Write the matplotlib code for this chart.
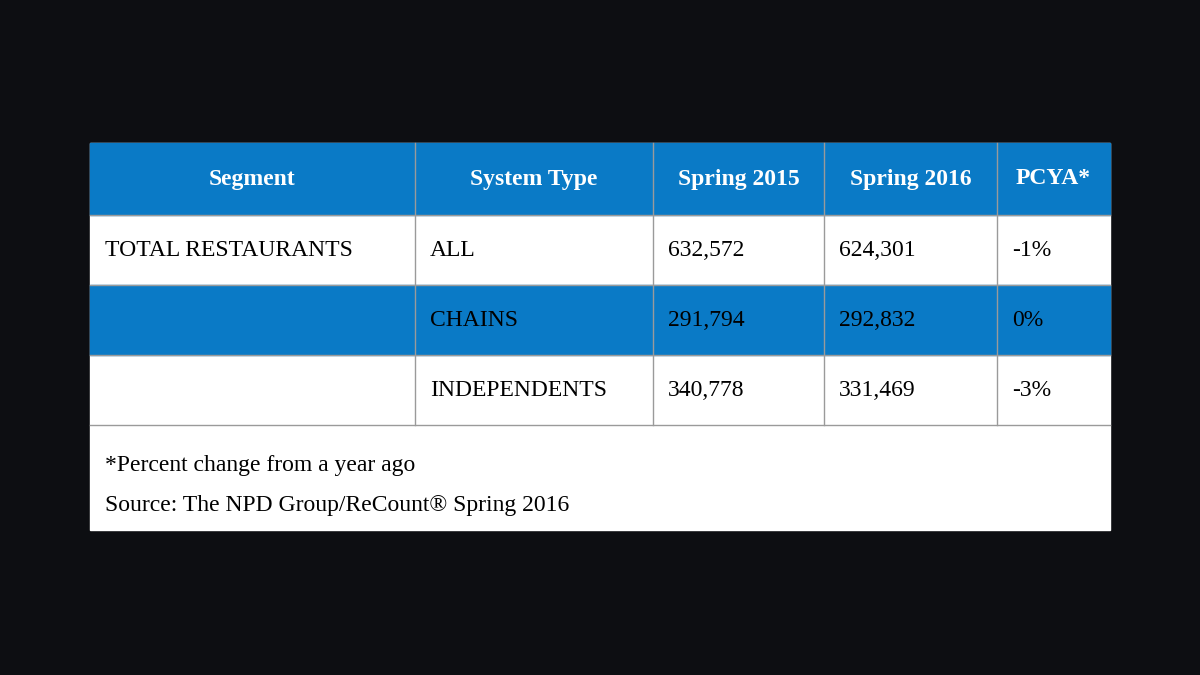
import matplotlib
matplotlib.use("Agg")
import matplotlib.pyplot as plt
from matplotlib.patches import Rectangle

headers = ["Segment", "System Type", "Spring 2015", "Spring 2016", "PCYA*"]
segments = ["TOTAL RESTAURANTS", "", ""]
system_types = ["ALL", "CHAINS", "INDEPENDENTS"]
spring_2015 = ["632,572", "291,794", "340,778"]
spring_2016 = ["624,301", "292,832", "331,469"]
pcya = ["-1%", "0%", "-3%"]
footnotes = ["*Percent change from a year ago", "Source: The NPD Group/ReCount\u00ae Spring 2016"]

BG = "#0d0e12"
BLUE = "#0a7ac6"
GRID = "#9a9a9a"
FONT = ["Liberation Serif", "DejaVu Serif"]

fig = plt.figure(figsize=(12, 6.75), dpi=100, facecolor=BG)
ax = fig.add_axes([0, 0, 1, 1])
ax.set_xlim(0, 1200); ax.set_ylim(675, 0); ax.axis("off")

x0, x1 = 90, 1110
col_edges = [90, 415, 653, 824, 997, 1110]
row_edges = [143, 215, 285, 355, 425]
ax.add_patch(Rectangle((x0, 143), x1 - x0, 530 - 143, color="white", zorder=1))

rows = [headers] + [list(r) for r in zip(segments, system_types, spring_2015, spring_2016, pcya)]
for i, row in enumerate(rows):
    top, bot = row_edges[i], row_edges[i + 1]
    blue = i in (0, 2)
    if blue:
        ax.add_patch(Rectangle((x0, top), x1 - x0, bot - top, color=BLUE, zorder=2))
    yc = (top + bot) / 2
    for j, txt in enumerate(row):
        if i == 0:
            ax.text((col_edges[j] + col_edges[j + 1]) / 2, yc, txt, ha="center", va="center",
                    color="white", fontsize=17, fontweight="bold", family=FONT, zorder=4)
        else:
            ax.text(col_edges[j] + 15, yc, txt, ha="left", va="center",
                    color="black", fontsize=17, family=FONT, zorder=4)

for y in row_edges[1:]:
    ax.plot([x0, x1], [y, y], color=GRID, lw=1, zorder=3)
for x in col_edges[1:-1]:
    ax.plot([x, x], [143, 425], color=GRID, lw=1, zorder=3)

for k, t in enumerate(footnotes):
    ax.text(105, 466 + k * 39, t, ha="left", va="center", color="black", fontsize=17, family=FONT, zorder=4)

fig.savefig("out.png", dpi=100, facecolor=BG)
